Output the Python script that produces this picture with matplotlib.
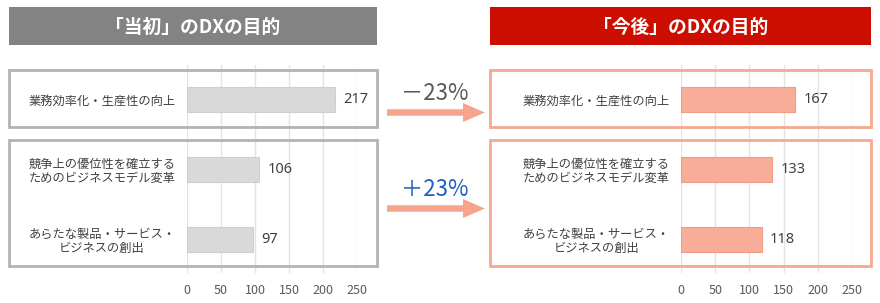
import matplotlib
matplotlib.use("Agg")
import matplotlib.pyplot as plt
from matplotlib.patches import Rectangle, FancyArrow

plt.rcParams['font.family'] = ['Noto Sans CJK JP', 'DejaVu Sans']

# Survey data: purpose of DX, counts of answers
categories = [
    "業務効率化・生産性の向上",
    "競争上の優位性を確立する\nためのビジネスモデル変革",
    "あらたな製品・サービス・\nビジネスの創出",
]
initial_counts = [217, 106, 97]
future_counts = [167, 133, 118]
x_ticks = [0, 50, 100, 150, 200, 250]
titles = ["「当初」のDXの目的", "「今後」のDXの目的"]
changes = ["－23%", "＋23%"]

W, H = 880, 303
fig = plt.figure(figsize=(W / 100, H / 100), dpi=100)


def px_axes(x0, y0, x1, y1):
    """Add axes from a pixel box given with a top-left origin."""
    return fig.add_axes([x0 / W, 1 - y1 / H, (x1 - x0) / W, (y1 - y0) / H])


def draw_panel(ax, values, bar_color, edge_color):
    ypos = list(range(len(categories)))
    bars = ax.barh(ypos, values, height=0.36, color=bar_color,
                   edgecolor=edge_color, linewidth=0.8, zorder=3)
    ax.set_xlim(0, 250)
    ax.set_ylim(2.479, -0.493)
    ax.set_xticks(x_ticks)
    ax.set_yticks(ypos)
    ax.set_yticklabels(categories, fontsize=8.8, color="#404040",
                       linespacing=1.1, multialignment="center")
    ax.tick_params(axis="y", length=0, pad=8)
    ax.tick_params(axis="x", length=0, pad=8, labelsize=9, labelcolor="#595959")
    ax.grid(axis="x", color="#e3e3e3", linewidth=1, zorder=0)
    ax.set_axisbelow(True)
    for s in ax.spines.values():
        s.set_visible(False)
    ax.patch.set_alpha(0)
    ax.bar_label(bars, padding=6, fontsize=10.5, color="#404040",
                 family=["Noto Sans", "DejaVu Sans"])


ax_left = px_axes(186.7, 65, 357.3, 273)
draw_panel(ax_left, initial_counts, "#d9d9d9", "#cfcfcf")

ax_right = px_axes(681, 65, 852, 273)
draw_panel(ax_right, future_counts, "#f7ad98", "#f39c84")

# Frames, headers and arrows drawn on a full-figure overlay in pixel units
ov = fig.add_axes([0, 0, 1, 1])
ov.set_xlim(0, W)
ov.set_ylim(H, 0)
ov.axis("off")
ov.patch.set_alpha(0)

# Header bars
ov.add_patch(Rectangle((9, 7), 368, 38, facecolor="#838383", edgecolor="none"))
ov.add_patch(Rectangle((490, 7), 381, 38, facecolor="#cc0e00", edgecolor="none"))
ov.text(193, 27.5, titles[0], color="white", fontsize=13.5, fontweight="bold",
        ha="center", va="center")
ov.text(680.5, 27.5, titles[1], color="white", fontsize=13.5, fontweight="bold",
        ha="center", va="center")

# Group frames
for (x0, x1, col) in [(9, 377, "#b3b3b3"), (490, 871, "#f5a892")]:
    ov.add_patch(Rectangle((x0, 70), x1 - x0, 57, facecolor="none",
                           edgecolor=col, linewidth=2.0))
    ov.add_patch(Rectangle((x0, 140), x1 - x0, 126, facecolor="none",
                           edgecolor=col, linewidth=2.0))

# Change arrows
for yc in (112.5, 208.5):
    ov.add_patch(FancyArrow(387, yc, 98, 0, width=6.5, head_width=19,
                            head_length=22, length_includes_head=True,
                            color="#f5a48e", linewidth=0))

ov.text(435, 94, changes[0], color="#595959", fontsize=16,
        ha="center", va="center")
ov.text(435, 189, changes[1], color="#1f5fbf", fontsize=16,
        ha="center", va="center")

fig.savefig("out.png", dpi=100)
